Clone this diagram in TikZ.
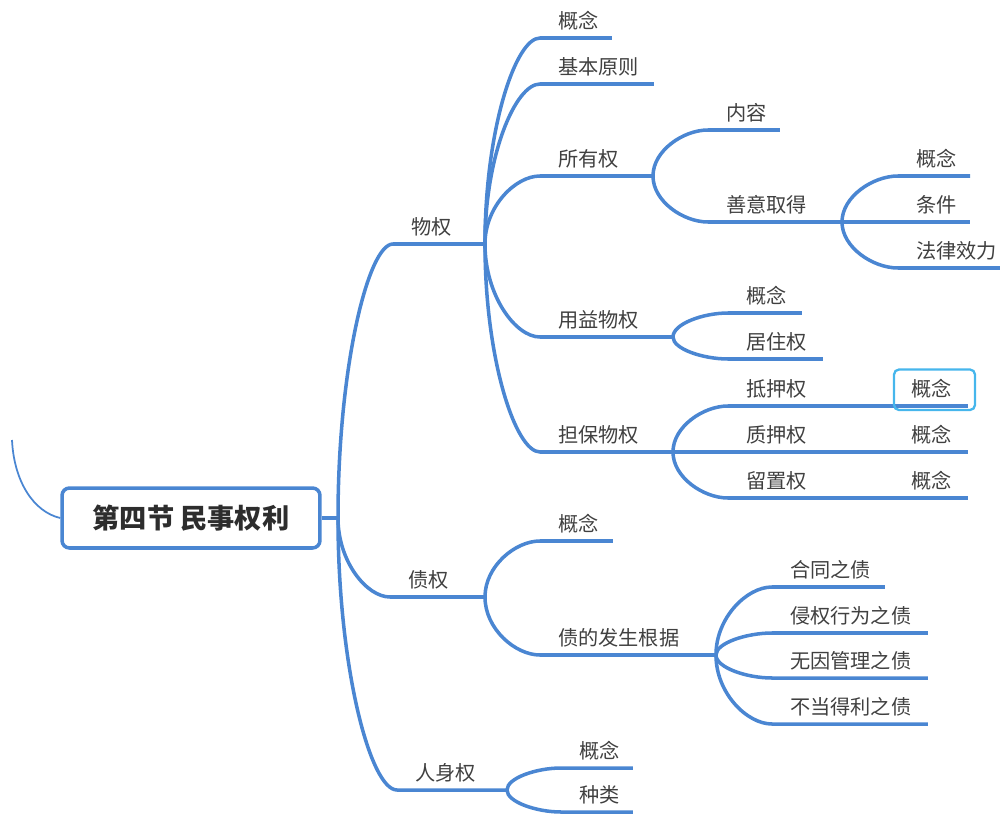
\documentclass[tikz,border=0pt]{standalone}
\usepackage{fontspec}
\setmainfont{Noto Sans CJK SC}
\usetikzlibrary{calc}
\definecolor{mapblue}{RGB}{74,134,210}
\definecolor{selblue}{RGB}{70,182,236}
\definecolor{txtgray}{RGB}{64,64,64}
\definecolor{rootgray}{RGB}{45,45,45}
\tikzset{
  topic/.style={anchor=south west, align=left, inner xsep=0.36cm, inner ysep=0.16cm, outer sep=0pt,
    text=txtgray, font=\fontsize{11.5}{14}\selectfont, text width=#1},
  branch/.style={to path={let \p1=(\tikztostart), \p2=(\tikztotarget) in
    .. controls (\x1,{\y1+0.55*(\y2-\y1)}) and ({\x1+0.55*(\x2-\x1)},\y2) .. (\tikztotarget)}},
}
\begin{document}
\begin{tikzpicture}[x=0.02cm, y=-0.02cm,
  link/.style={draw=mapblue, line width=2pt},
  root/.style={draw=mapblue, line width=2pt, rounded corners=0.15cm, fill=white,
    minimum width=5.16cm, minimum height=1.2cm, text=rootgray,
    font=\fontsize{15.5}{18}\selectfont\bfseries},
  sel/.style={draw=selblue, line width=1.3pt, rounded corners=0.1cm}]
\useasboundingbox (0,0) rectangle (1000,814);

\coordinate (lt) at (12,440);
\coordinate (hub) at (338,518);
\node[root] (root) at (191,518) {第四节 民事权利};

\node[topic=1.12cm] (wq) at (393,244) {物权};
\node[topic=1.18cm] (zq) at (390,597) {债权};
\node[topic=1.48cm] (rsq) at (397,790) {人身权};

\node[topic=0.72cm] (gn1) at (540,38) {概念};
\node[topic=1.56cm] (jbyz) at (540,84) {基本原则};
\node[topic=1.54cm] (syq) at (540,176) {所有权};
\node[topic=1.94cm] (yywq) at (540,337) {用益物权};
\node[topic=1.94cm] (dbwq) at (540,452) {担保物权};

\node[topic=0.72cm] (nr) at (708,130) {内容};
\node[topic=1.96cm] (syqd) at (708,222) {善意取得};
\node[topic=0.72cm] (gn2) at (898,176) {概念};
\node[topic=0.72cm] (tj) at (898,222) {条件};
\node[topic=1.64cm] (flxl) at (898,268) {法律效力};

\node[topic=0.76cm] (gn3) at (728,313) {概念};
\node[topic=1.18cm] (jzq) at (728,359) {居住权};

\node[topic=1.32cm] (dyq) at (728,406) {抵押权};
\node[topic=1.32cm] (zyq) at (728,452) {质押权};
\node[topic=1.32cm] (lzq) at (728,498) {留置权};
\node[topic=0.78cm] (gn7) at (893,406) {概念};
\node[topic=0.78cm] (gn8) at (893,452) {概念};
\node[topic=0.78cm] (gn9) at (893,498) {概念};

\node[topic=0.74cm] (gn4) at (540,541) {概念};
\node[topic=2.8cm] (zfsgj) at (540,655) {债的发生根据};
\node[topic=1.54cm] (htzz) at (772,587) {合同之债};
\node[topic=2.4cm] (qqxw) at (772,633) {侵权行为之债};
\node[topic=2.4cm] (wygl) at (772,678) {无因管理之债};
\node[topic=2.4cm] (bdly) at (772,724) {不当得利之债};

\node[topic=0.72cm] (gn5) at (561,768) {概念};
\node[topic=0.72cm] (zl) at (561,812) {种类};

\draw[mapblue, line width=1pt] (lt) .. controls (14,482) and (34,512) .. (root.west);
\draw[link] (root.east) -- (hub);
\draw[link] (hub) to[branch] (wq.south west) -- (wq.south east);
\draw[link] (hub) to[branch] (zq.south west) -- (zq.south east);
\draw[link] (hub) to[branch] (rsq.south west) -- (rsq.south east);

\draw[link] (wq.south east) to[branch] (gn1.south west) -- (gn1.south east);
\draw[link] (wq.south east) to[branch] (jbyz.south west) -- (jbyz.south east);
\draw[link] (wq.south east) to[branch] (syq.south west) -- (syq.south east);
\draw[link] (wq.south east) to[branch] (yywq.south west) -- (yywq.south east);
\draw[link] (wq.south east) to[branch] (dbwq.south west) -- (dbwq.south east);

\draw[link] (syq.south east) to[branch] (nr.south west) -- (nr.south east);
\draw[link] (syq.south east) to[branch] (syqd.south west) -- (syqd.south east);
\draw[link] (syqd.south east) to[branch] (gn2.south west) -- (gn2.south east);
\draw[link] (syqd.south east) -- (tj.south west) -- (tj.south east);
\draw[link] (syqd.south east) to[branch] (flxl.south west) -- (flxl.south east);

\draw[link] (yywq.south east) to[branch] (gn3.south west) -- (gn3.south east);
\draw[link] (yywq.south east) to[branch] (jzq.south west) -- (jzq.south east);

\draw[link] (dbwq.south east) to[branch] (dyq.south west) -- (dyq.south east);
\draw[link] (dbwq.south east) -- (zyq.south west) -- (zyq.south east);
\draw[link] (dbwq.south east) to[branch] (lzq.south west) -- (lzq.south east);
\draw[link] (dyq.south east) -- (gn7.south west) -- (gn7.south east);
\draw[link] (zyq.south east) -- (gn8.south west) -- (gn8.south east);
\draw[link] (lzq.south east) -- (gn9.south west) -- (gn9.south east);

\draw[link] (zq.south east) to[branch] (gn4.south west) -- (gn4.south east);
\draw[link] (zq.south east) to[branch] (zfsgj.south west) -- (zfsgj.south east);
\draw[link] (zfsgj.south east) to[branch] (htzz.south west) -- (htzz.south east);
\draw[link] (zfsgj.south east) to[branch] (qqxw.south west) -- (qqxw.south east);
\draw[link] (zfsgj.south east) to[branch] (wygl.south west) -- (wygl.south east);
\draw[link] (zfsgj.south east) to[branch] (bdly.south west) -- (bdly.south east);

\draw[link] (rsq.south east) to[branch] (gn5.south west) -- (gn5.south east);
\draw[link] (rsq.south east) to[branch] (zl.south west) -- (zl.south east);

\draw[sel] ([shift={(1,-1.5)}]gn7.north west) rectangle ([shift={(7,4)}]gn7.south east);
\end{tikzpicture}
\end{document}
